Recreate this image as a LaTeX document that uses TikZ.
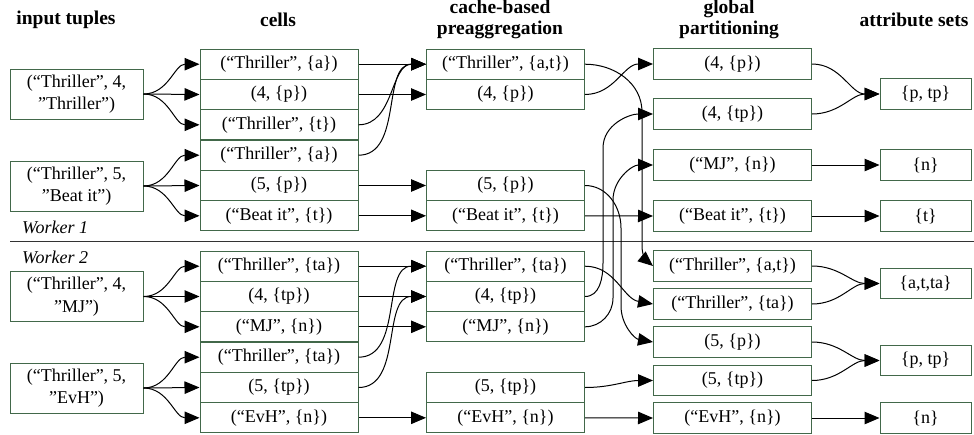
\documentclass[tikz,border=0pt]{standalone}
\usepackage{fontspec}
\setmainfont{Liberation Serif}
\usetikzlibrary{arrows.meta}
\definecolor{boxgreen}{RGB}{66,104,74}
\begin{document}
\begin{tikzpicture}[x=1pt,y=1pt,
  box/.style={draw=boxgreen, line width=1pt, inner sep=0pt, minimum height=30.3pt, font=\fontsize{18}{22.5}\selectfont},
  cellbox/.style={box, minimum width=158pt},
  inbox/.style={box, minimum width=133pt, minimum height=50pt, align=center},
  attrbox/.style={box, minimum width=91pt},
  head/.style={font=\fontsize{19.5}{20.5}\selectfont\bfseries, align=center},
  worker/.style={font=\fontsize{18}{22}\selectfont\itshape, anchor=west, inner sep=0pt},
  conn/.style={line width=1pt, -{Triangle[length=15pt,width=12.5pt]}}
]
\useasboundingbox (0,0) rectangle (974,-434);

% headings
\node[head] (h1) at (66,-20) {input tuples};
\node[head] (h2) at (278,-20) {cells};
\node[head] (h3) at (500,-19.5) {cache-based\\preaggregation};
\node[head] (h4) at (729,-19.5) {global\\partitioning};
\node[head] (h5) at (914,-20) {attribute sets};

% separator
\coordinate (sl) at (10,-241);
\coordinate (sr) at (974,-241);
\draw[line width=0.8pt, black!80] (sl) -- (sr);
\node[worker] (w1) at (22,-227) {Worker 1};
\node[worker] (w2) at (22,-257) {Worker 2};

% inputs
\node[inbox] (i1) at (76.5,-94) {(“Thriller”, 4,\\”Thriller”)};
\node[inbox] (i2) at (76.5,-186) {(“Thriller”, 5,\\”Beat it”)};
\node[inbox] (i3) at (76.5,-296.5) {(“Thriller”, 4,\\”MJ”)};
\node[inbox] (i4) at (76.5,-388) {(“Thriller”, 5,\\”EvH”)};

% cells
\node[cellbox] (c1) at (279,-64.2) {(“Thriller”, \{a\})};
\node[cellbox] (c2) at (279,-94.5) {(4, \{p\})};
\node[cellbox] (c3) at (279,-124.8) {(“Thriller”, \{t\})};
\node[cellbox] (c4) at (279,-155.2) {(“Thriller”, \{a\})};
\node[cellbox] (c5) at (279,-185.5) {(5, \{p\})};
\node[cellbox] (c6) at (279,-215.8) {(“Beat it”, \{t\})};
\node[cellbox] (c7) at (279,-266.2) {(“Thriller”, \{ta\})};
\node[cellbox] (c8) at (279,-296.5) {(4, \{tp\})};
\node[cellbox] (c9) at (279,-326.8) {(“MJ”, \{n\})};
\node[cellbox] (c10) at (279,-357.2) {(“Thriller”, \{ta\})};
\node[cellbox] (c11) at (279,-387.5) {(5, \{tp\})};
\node[cellbox] (c12) at (279,-417.8) {(“EvH”, \{n\})};

% preaggregation
\node[cellbox] (p1) at (505.5,-64.2) {(“Thriller”, \{a,t\})};
\node[cellbox] (p2) at (505.5,-94.5) {(4, \{p\})};
\node[cellbox] (p3) at (505.5,-185.5) {(5, \{p\})};
\node[cellbox] (p4) at (505.5,-215.8) {(“Beat it”, \{t\})};
\node[cellbox] (p5) at (505.5,-266.2) {(“Thriller”, \{ta\})};
\node[cellbox] (p6) at (505.5,-296.5) {(4, \{tp\})};
\node[cellbox] (p7) at (505.5,-326.8) {(“MJ”, \{n\})};
\node[cellbox] (p8) at (505.5,-387.5) {(5, \{tp\})};
\node[cellbox] (p9) at (505.5,-417.8) {(“EvH”, \{n\})};

% global partitioning
\node[cellbox] (g1) at (732.5,-64) {(4, \{p\})};
\node[cellbox] (g2) at (732.5,-114) {(4, \{tp\})};
\node[cellbox] (g3) at (732.5,-165) {(“MJ”, \{n\})};
\node[cellbox] (g4) at (732.5,-216) {(“Beat it”, \{t\})};
\node[cellbox] (g5) at (732.5,-266) {(“Thriller”, \{a,t\})};
\node[cellbox] (g6) at (732.5,-304) {(“Thriller”, \{ta\})};
\node[cellbox] (g7) at (732.5,-342) {(5, \{p\})};
\node[cellbox] (g8) at (732.5,-380.5) {(5, \{tp\})};
\node[cellbox] (g9) at (732.5,-418) {(“EvH”, \{n\})};

% attribute sets
\node[attrbox] (a1) at (925.5,-94) {\{p, tp\}};
\node[attrbox] (a2) at (925.5,-165) {\{n\}};
\node[attrbox] (a3) at (925.5,-216) {\{t\}};
\node[attrbox] (a4) at (925.5,-283.5) {\{a,t,ta\}};
\node[attrbox] (a5) at (925.5,-360.5) {\{p, tp\}};
\node[attrbox] (a6) at (925.5,-418) {\{n\}};

% inputs -> cells
\foreach \i/\a/\b/\c in {i1/c1/c2/c3, i2/c4/c5/c6, i3/c7/c8/c9, i4/c10/c11/c12}{
  \draw[conn] (\i.east) to[out=0,in=180] (\a.west);
  \draw[conn] (\i.east) -- (\b.west);
  \draw[conn] (\i.east) to[out=0,in=180] (\c.west);
}

% cells -> preaggregation
\draw[conn] (c1.east) -- (p1.west);
\draw[conn] (c2.east) -- (p2.west);
\draw[conn] (c3.east) to[out=0,in=180] (p1.west);
\draw[conn] (c4.east) to[out=0,in=180] (p1.west);
\draw[conn] (c5.east) -- (p3.west);
\draw[conn] (c6.east) -- (p4.west);
\draw[conn] (c7.east) -- (p5.west);
\draw[conn] (c8.east) -- (p6.west);
\draw[conn] (c9.east) -- (p7.west);
\draw[conn] (c10.east) to[out=0,in=180] (p5.west);
\draw[conn] (c11.east) to[out=0,in=180] (p6.west);
\draw[conn] (c12.east) -- (p9.west);

% preaggregation -> global partitioning
\draw[conn] (p1.east) to[out=0,in=90] (642,-112) -- (642,-246) to[out=-90,in=140] (g5.west);
\draw[conn] (p2.east) to[out=0,in=180] (g1.west);
\draw[conn] (p3.east) to[out=0,in=90] (621,-228) -- (621,-306) to[out=-90,in=170] (g7.west);
\draw[conn] (p4.east) -- (g4.west);
\draw[conn] (p5.east) to[out=0,in=170] (g6.west);
\draw[conn] (p6.east) to[out=0,in=-90] (603,-263) -- (603,-148) to[out=90,in=180] (g2.west);
\draw[conn] (p7.east) to[out=0,in=-90] (613,-298) -- (613,-200) to[out=90,in=180] (g3.west);
\draw[conn] (p8.east) to[out=0,in=180] (g8.west);
\draw[conn] (p9.east) -- (g9.west);

% global partitioning -> attribute sets
\draw[conn] (g1.east) to[out=0,in=180] (a1.west);
\draw[conn] (g2.east) to[out=0,in=180] (a1.west);
\draw[conn] (g3.east) -- (a2.west);
\draw[conn] (g4.east) -- (a3.west);
\draw[conn] (g5.east) to[out=0,in=180] (a4.west);
\draw[conn] (g6.east) to[out=0,in=180] (a4.west);
\draw[conn] (g7.east) to[out=0,in=180] (a5.west);
\draw[conn] (g8.east) to[out=0,in=180] (a5.west);
\draw[conn] (g9.east) -- (a6.west);
\end{tikzpicture}
\end{document}
